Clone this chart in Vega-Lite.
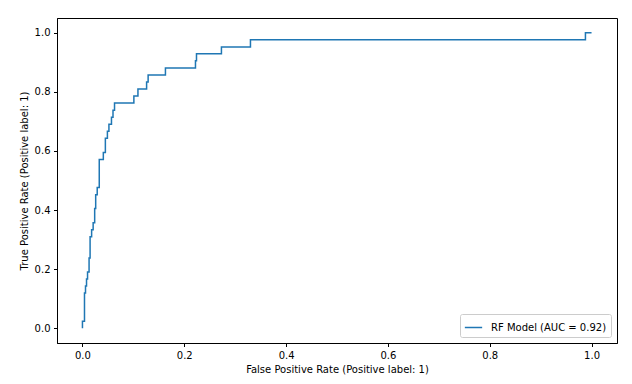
{
  "$schema": "https://vega.github.io/schema/vega-lite/v6.json",
  "width": 560,
  "height": 325,
  "autosize": {"type": "none"},
  "padding": {"left": 57, "top": 18, "right": 15, "bottom": 41},
  "background": "white",
  "config": {
    "view": {"stroke": "black", "strokeWidth": 1},
    "font": "DejaVu Sans",
    "axis": {
      "grid": false,
      "domainColor": "black",
      "tickColor": "black",
      "tickSize": 3.5,
      "labelFont": "DejaVu Sans",
      "labelFontSize": 10,
      "labelColor": "black",
      "titleFont": "DejaVu Sans",
      "titleFontSize": 10,
      "titleFontWeight": "normal",
      "titleColor": "black",
      "labelPadding": 3.5
    },
    "legend": {
      "labelFont": "DejaVu Sans",
      "labelFontSize": 10,
      "labelColor": "black"
    }
  },
  "data": {
    "values": [
      {"i": 0, "fpr": 0.0, "tpr": 0.0, "model": "RF Model (AUC = 0.92)"},
      {"i": 1, "fpr": 0.0, "tpr": 0.024, "model": "RF Model (AUC = 0.92)"},
      {"i": 2, "fpr": 0.004, "tpr": 0.024, "model": "RF Model (AUC = 0.92)"},
      {"i": 3, "fpr": 0.004, "tpr": 0.119, "model": "RF Model (AUC = 0.92)"},
      {"i": 4, "fpr": 0.006, "tpr": 0.119, "model": "RF Model (AUC = 0.92)"},
      {"i": 5, "fpr": 0.006, "tpr": 0.143, "model": "RF Model (AUC = 0.92)"},
      {"i": 6, "fpr": 0.008, "tpr": 0.143, "model": "RF Model (AUC = 0.92)"},
      {"i": 7, "fpr": 0.008, "tpr": 0.167, "model": "RF Model (AUC = 0.92)"},
      {"i": 8, "fpr": 0.010, "tpr": 0.167, "model": "RF Model (AUC = 0.92)"},
      {"i": 9, "fpr": 0.010, "tpr": 0.190, "model": "RF Model (AUC = 0.92)"},
      {"i": 10, "fpr": 0.013, "tpr": 0.190, "model": "RF Model (AUC = 0.92)"},
      {"i": 11, "fpr": 0.013, "tpr": 0.238, "model": "RF Model (AUC = 0.92)"},
      {"i": 12, "fpr": 0.015, "tpr": 0.238, "model": "RF Model (AUC = 0.92)"},
      {"i": 13, "fpr": 0.015, "tpr": 0.310, "model": "RF Model (AUC = 0.92)"},
      {"i": 14, "fpr": 0.018, "tpr": 0.310, "model": "RF Model (AUC = 0.92)"},
      {"i": 15, "fpr": 0.018, "tpr": 0.333, "model": "RF Model (AUC = 0.92)"},
      {"i": 16, "fpr": 0.021, "tpr": 0.333, "model": "RF Model (AUC = 0.92)"},
      {"i": 17, "fpr": 0.021, "tpr": 0.357, "model": "RF Model (AUC = 0.92)"},
      {"i": 18, "fpr": 0.024, "tpr": 0.357, "model": "RF Model (AUC = 0.92)"},
      {"i": 19, "fpr": 0.024, "tpr": 0.405, "model": "RF Model (AUC = 0.92)"},
      {"i": 20, "fpr": 0.026, "tpr": 0.405, "model": "RF Model (AUC = 0.92)"},
      {"i": 21, "fpr": 0.026, "tpr": 0.452, "model": "RF Model (AUC = 0.92)"},
      {"i": 22, "fpr": 0.029, "tpr": 0.452, "model": "RF Model (AUC = 0.92)"},
      {"i": 23, "fpr": 0.029, "tpr": 0.476, "model": "RF Model (AUC = 0.92)"},
      {"i": 24, "fpr": 0.033, "tpr": 0.476, "model": "RF Model (AUC = 0.92)"},
      {"i": 25, "fpr": 0.033, "tpr": 0.571, "model": "RF Model (AUC = 0.92)"},
      {"i": 26, "fpr": 0.041, "tpr": 0.571, "model": "RF Model (AUC = 0.92)"},
      {"i": 27, "fpr": 0.041, "tpr": 0.595, "model": "RF Model (AUC = 0.92)"},
      {"i": 28, "fpr": 0.045, "tpr": 0.595, "model": "RF Model (AUC = 0.92)"},
      {"i": 29, "fpr": 0.045, "tpr": 0.643, "model": "RF Model (AUC = 0.92)"},
      {"i": 30, "fpr": 0.049, "tpr": 0.643, "model": "RF Model (AUC = 0.92)"},
      {"i": 31, "fpr": 0.049, "tpr": 0.667, "model": "RF Model (AUC = 0.92)"},
      {"i": 32, "fpr": 0.052, "tpr": 0.667, "model": "RF Model (AUC = 0.92)"},
      {"i": 33, "fpr": 0.052, "tpr": 0.690, "model": "RF Model (AUC = 0.92)"},
      {"i": 34, "fpr": 0.057, "tpr": 0.690, "model": "RF Model (AUC = 0.92)"},
      {"i": 35, "fpr": 0.057, "tpr": 0.714, "model": "RF Model (AUC = 0.92)"},
      {"i": 36, "fpr": 0.060, "tpr": 0.714, "model": "RF Model (AUC = 0.92)"},
      {"i": 37, "fpr": 0.060, "tpr": 0.738, "model": "RF Model (AUC = 0.92)"},
      {"i": 38, "fpr": 0.063, "tpr": 0.738, "model": "RF Model (AUC = 0.92)"},
      {"i": 39, "fpr": 0.063, "tpr": 0.762, "model": "RF Model (AUC = 0.92)"},
      {"i": 40, "fpr": 0.101, "tpr": 0.762, "model": "RF Model (AUC = 0.92)"},
      {"i": 41, "fpr": 0.101, "tpr": 0.786, "model": "RF Model (AUC = 0.92)"},
      {"i": 42, "fpr": 0.109, "tpr": 0.786, "model": "RF Model (AUC = 0.92)"},
      {"i": 43, "fpr": 0.109, "tpr": 0.810, "model": "RF Model (AUC = 0.92)"},
      {"i": 44, "fpr": 0.126, "tpr": 0.810, "model": "RF Model (AUC = 0.92)"},
      {"i": 45, "fpr": 0.126, "tpr": 0.833, "model": "RF Model (AUC = 0.92)"},
      {"i": 46, "fpr": 0.129, "tpr": 0.833, "model": "RF Model (AUC = 0.92)"},
      {"i": 47, "fpr": 0.129, "tpr": 0.857, "model": "RF Model (AUC = 0.92)"},
      {"i": 48, "fpr": 0.163, "tpr": 0.857, "model": "RF Model (AUC = 0.92)"},
      {"i": 49, "fpr": 0.163, "tpr": 0.881, "model": "RF Model (AUC = 0.92)"},
      {"i": 50, "fpr": 0.222, "tpr": 0.881, "model": "RF Model (AUC = 0.92)"},
      {"i": 51, "fpr": 0.222, "tpr": 0.905, "model": "RF Model (AUC = 0.92)"},
      {"i": 52, "fpr": 0.224, "tpr": 0.905, "model": "RF Model (AUC = 0.92)"},
      {"i": 53, "fpr": 0.224, "tpr": 0.929, "model": "RF Model (AUC = 0.92)"},
      {"i": 54, "fpr": 0.273, "tpr": 0.929, "model": "RF Model (AUC = 0.92)"},
      {"i": 55, "fpr": 0.273, "tpr": 0.952, "model": "RF Model (AUC = 0.92)"},
      {"i": 56, "fpr": 0.330, "tpr": 0.952, "model": "RF Model (AUC = 0.92)"},
      {"i": 57, "fpr": 0.330, "tpr": 0.976, "model": "RF Model (AUC = 0.92)"},
      {"i": 58, "fpr": 0.988, "tpr": 0.976, "model": "RF Model (AUC = 0.92)"},
      {"i": 59, "fpr": 0.988, "tpr": 1.0, "model": "RF Model (AUC = 0.92)"},
      {"i": 60, "fpr": 1.0, "tpr": 1.0, "model": "RF Model (AUC = 0.92)"}
    ]
  },
  "mark": {"type": "line", "strokeWidth": 1.5},
  "encoding": {
    "x": {
      "field": "fpr",
      "type": "quantitative",
      "scale": {"domain": [-0.05, 1.05], "nice": false, "zero": false},
      "axis": {"title": "False Positive Rate (Positive label: 1)", "values": [0, 0.2, 0.4, 0.6, 0.8, 1.0], "format": ".1f", "titlePadding": 4}
    },
    "y": {
      "field": "tpr",
      "type": "quantitative",
      "scale": {"domain": [-0.05, 1.05], "nice": false, "zero": false},
      "axis": {"title": "True Positive Rate (Positive label: 1)", "values": [0, 0.2, 0.4, 0.6, 0.8, 1.0], "format": ".1f", "titlePadding": 5}
    },
    "order": {"field": "i", "type": "quantitative"},
    "color": {
      "field": "model",
      "type": "nominal",
      "scale": {"range": ["#1f77b4"]},
      "legend": {
        "title": null,
        "orient": "bottom-right",
        "offset": 6,
        "symbolType": "stroke",
        "symbolStrokeWidth": 1.5,
        "symbolSize": 300,
        "strokeColor": "#cccccc",
        "fillColor": "white",
        "cornerRadius": 2,
        "padding": 4,
        "labelOffset": 8
      }
    }
  }
}
